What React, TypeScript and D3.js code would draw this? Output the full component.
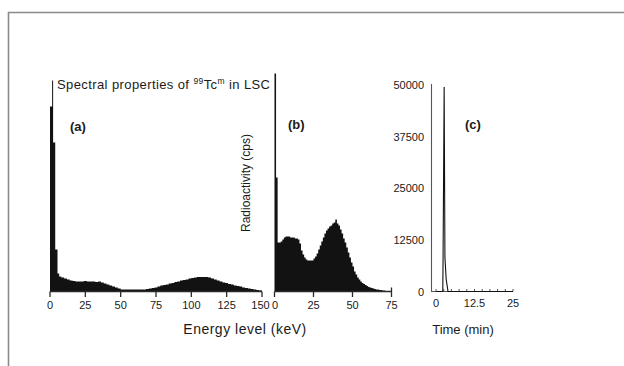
import React from "react";
import * as d3 from "d3";

// ---------- DATA ----------
// Panel (a): energy bin starts (keV) and relative counts
const aBinStart = [0, 1.5, 2.2, 3.7, 5.3, 6.5, 8, 10, 12, 14, 16, 18, 20, 22, 24, 26, 28, 30, 32, 34, 36, 38, 40, 42, 44, 46, 48, 50, 52, 54, 56, 58, 60, 62, 64, 66, 68, 70, 72, 74, 76, 78, 80, 82, 84, 86, 88, 90, 92, 94, 96, 98, 100, 102, 104, 106, 108, 110, 112, 114, 116, 118, 120, 122, 124, 126, 128, 130, 132, 134, 136, 138, 140, 142, 144, 146, 148];
const aCounts = [185, 211, 149, 42, 18, 15, 14, 13, 12, 11, 10.5, 10, 10, 10, 10.5, 10, 10, 10, 9.5, 10, 9, 8, 7, 6, 5, 4, 3, 2, 2, 2, 2, 2, 2, 2, 2, 2, 2.5, 3, 3.5, 4, 5, 6, 6.5, 7, 8, 8.5, 9.5, 10, 11, 11.5, 12, 13, 13.5, 14, 14.5, 14.5, 14.5, 14.5, 14, 13, 12, 11, 10, 9, 8.5, 7.5, 7, 6, 5.5, 5, 4, 3.5, 3, 2.5, 2, 1.5, 1];
const aEnd = 150;

// Panel (b): 1 keV bins starting at 0
const bCounts = [218, 114, 49, 49, 50, 52, 54, 55, 55, 55, 54, 54, 54, 53, 53, 52, 48, 41, 37, 34, 32, 31, 31, 31, 31, 33, 35, 38, 42, 46, 50, 54, 58, 61, 63, 65, 66, 68, 69, 72, 68, 66, 62, 58, 53, 49, 44, 39, 34, 29, 25, 20, 17, 14, 12, 10, 8.5, 7.5, 6.5, 5.5, 4.5, 4, 3.5, 3, 2.5, 2, 2, 1.5, 1.5, 1, 1, 0.5, 0.5];

// Panel (c): time (min) vs radioactivity (cps)
const cTime = [0, 2.2, 2.3, 2.65, 2.9, 3.3, 3.9, 25];
const cCounts = [0, 0, 8300, 49500, 8300, 3000, 0, 0];

const aTicks = [0, 25, 50, 75, 100, 125, 150];
const bTicks = [0, 25, 50, 75];
const cYTicks = [0, 12500, 25000, 37500, 50000];
const cXLabels = [0, 12.5, 25];
const cXMinor = [0, 2.5, 5, 7.5, 10, 12.5, 15, 17.5, 20, 22.5, 25];

const FONT = "'Liberation Sans', Arial, sans-serif";

export default function App() {
  const W = 624, H = 366;
  const baseY = 291.5;

  const yAB = d3.scaleLinear().domain([0, 220]).range([baseY, baseY - 220]);
  const xA = d3.scaleLinear().domain([0, 150]).range([50, 262]);
  const xB = d3.scaleLinear().domain([0, 75]).range([274.5, 391.5]);
  const xC = d3.scaleLinear().domain([0, 25]).range([436, 513]);
  const yC = d3.scaleLinear().domain([0, 50000]).range([baseY, 85]);

  const aPts: [number, number][] = aBinStart.map((s, i) => [s, aCounts[i]]);
  aPts.push([aEnd, aCounts[aCounts.length - 1]]);
  const bPts: [number, number][] = bCounts.map((c, i) => [i, c]);
  bPts.push([bCounts.length, bCounts[bCounts.length - 1]]);

  const areaA = d3.area<[number, number]>()
    .x(d => xA(d[0])).y0(yAB(0)).y1(d => yAB(d[1]))
    .curve(d3.curveStepAfter);
  const areaB = d3.area<[number, number]>()
    .x(d => xB(d[0])).y0(yAB(0)).y1(d => yAB(d[1]))
    .curve(d3.curveStepAfter);
  const lineC = d3.line<number>()
    .x((_, i) => xC(cTime[i])).y(d => yC(d));

  const axisColor = "#2a2a2a";
  const textColor = "#1a1a1a";

  return (
    <svg width={W} height={H} style={{ position: "absolute", left: 0, top: 0, background: "#fff" }} fontFamily={FONT}>
      {/* frame */}
      <line x1={8.5} y1={12} x2={8.5} y2={H} stroke="#8a8a8a" strokeWidth={1.6} />
      <line x1={8} y1={12.5} x2={W} y2={12.5} stroke="#8a8a8a" strokeWidth={1.6} />

      {/* panel a */}
      <path d={areaA(aPts) || ""} fill="#121212" />
      <line x1={xA(0)} x2={xA(150)} y1={baseY} y2={baseY} stroke={axisColor} strokeWidth={1.3} />
      {aTicks.map(t => (
        <g key={"a" + t}>
          <line x1={xA(t)} x2={xA(t)} y1={baseY} y2={baseY + 5.5} stroke={axisColor} strokeWidth={1.3} />
          <text x={xA(t) - (t === 150 ? 1.5 : 0)} y={309} textAnchor="middle" fontSize={11} fill={textColor}>{t}</text>
        </g>
      ))}

      {/* panel b */}
      <path d={areaB(bPts) || ""} fill="#121212" />
      <line x1={xB(0)} x2={xB(75)} y1={baseY} y2={baseY} stroke={axisColor} strokeWidth={1.3} />
      {bTicks.map(t => (
        <g key={"b" + t}>
          <line x1={xB(t)} x2={xB(t)} y1={t === 75 ? baseY - 4 : baseY} y2={baseY + 5.5} stroke={axisColor} strokeWidth={1.3} />
          <text x={xB(t) + (t === 0 ? 0.5 : 0)} y={309} textAnchor="middle" fontSize={11} fill={textColor}>{t}</text>
        </g>
      ))}

      {/* panel c */}
      <line x1={431.5} x2={431.5} y1={84} y2={baseY} stroke="#555" strokeWidth={1.1} />
      <line x1={431} x2={xC(25)} y1={baseY} y2={baseY} stroke="#555" strokeWidth={1.1} />
      {cXMinor.map(t => (
        <line key={"cm" + t} x1={xC(t)} x2={xC(t)} y1={baseY} y2={baseY - 2.5} stroke="#555" strokeWidth={1} />
      ))}
      {cXLabels.map(t => (
        <text key={"cx" + t} x={xC(t)} y={307} textAnchor="middle" fontSize={11} fill={textColor}>{t}</text>
      ))}
      {cYTicks.map(t => (
        <text key={"cy" + t} x={424} y={yC(t) + 4} textAnchor="end" fontSize={11} fill={textColor}>{t}</text>
      ))}
      <path d={lineC(cCounts) || ""} fill="none" stroke="#111" strokeWidth={1.1} />

      {/* texts */}
      <text x={57} y={89} fontSize={13} fill={textColor} letterSpacing={0.4}>
        Spectral properties of <tspan fontSize={8.5} dy={-5}>99</tspan><tspan dy={5}>Tc</tspan><tspan fontSize={8.5} dy={-5}>m</tspan><tspan dy={5}> in LSC</tspan>
      </text>
      <text x={70} y={131} fontSize={13} fontWeight="bold" fill={textColor}>(a)</text>
      <text x={288} y={129} fontSize={13} fontWeight="bold" fill={textColor}>(b)</text>
      <text x={465} y={129} fontSize={13} fontWeight="bold" fill={textColor}>(c)</text>
      <text transform="translate(250,183) rotate(-90)" textAnchor="middle" fontSize={12} fill={textColor}>Radioactivity (cps)</text>
      <text x={245} y={334} textAnchor="middle" fontSize={14} fill={textColor} letterSpacing={0.5}>Energy level (keV)</text>
      <text x={463} y={334} textAnchor="middle" fontSize={13} fill={textColor}>Time (min)</text>
    </svg>
  );
}
